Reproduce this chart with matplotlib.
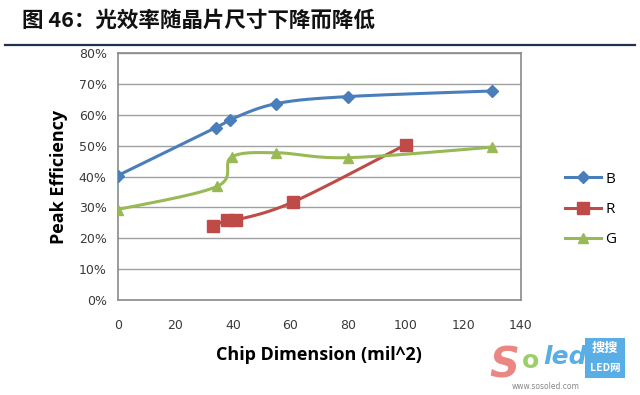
import numpy as np
import matplotlib
matplotlib.use("Agg")
import matplotlib.pyplot as plt
from matplotlib.patches import FancyBboxPatch

title = "图 46：光效率随晶片尺寸下降而降低"
series_names = ["B", "R", "G"]
b_x = [0, 34, 39, 55, 80, 130]
b_y = [40.3, 55.8, 58.4, 63.6, 65.9, 67.7]
r_x = [33, 38, 41, 61, 100]
r_y = [23.9, 25.9, 25.9, 31.8, 50.3]
g_x = [0, 34.5, 39.5, 55, 80, 130]
g_y = [29.3, 36.8, 46.3, 47.7, 46.1, 49.5]
xticks = [0, 20, 40, 60, 80, 100, 120, 140]
yticks = [0, 10, 20, 30, 40, 50, 60, 70, 80]

colors = ["#4a7ebb", "#be4b48", "#98b954"]
markers = ["D", "s", "^"]
msizes = [6, 8, 7.5]

plt.rcParams['font.family'] = ['Noto Sans CJK SC', 'DejaVu Sans']

fig = plt.figure(figsize=(6.4, 3.95), dpi=100)
ax = fig.add_axes([0.184, 0.2405, 0.630, 0.6253])


def smooth(x, y, sx=2.87, sy=3.09, n=30):
    # Excel-like smooth curve (Bezier through the points) in display-proportional units
    P = np.column_stack([np.asarray(x, float) * sx, np.asarray(y, float) * sy])
    out = []
    m = len(P)
    for i in range(m - 1):
        p0 = P[i - 1] if i > 0 else P[i]
        p1 = P[i]
        p2 = P[i + 1]
        p3 = P[i + 2] if i + 2 < m else P[i + 1]
        c1 = p1 + (p2 - p0) / 6.0
        c2 = p2 - (p3 - p1) / 6.0
        t = np.linspace(0, 1, n)[:, None]
        seg = ((1 - t) ** 3) * p1 + 3 * ((1 - t) ** 2) * t * c1 + 3 * (1 - t) * t ** 2 * c2 + t ** 3 * p2
        out.append(seg if i == 0 else seg[1:])
    C = np.vstack(out)
    return C[:, 0] / sx, C[:, 1] / sy


data = [(b_x, b_y), (r_x, r_y), (g_x, g_y)]
for (xs, ys), name, c, mk, ms in zip(data, series_names, colors, markers, msizes):
    cx, cy = smooth(xs, ys)
    ax.plot(cx, np.array(cy) / 100, color=c, lw=2.2, zorder=3, solid_capstyle='round')
    ax.plot(xs, np.array(ys) / 100, ls='none', marker=mk, color=c, ms=ms, zorder=4)

ax.set_xlim(0, 140)
ax.set_ylim(0, 0.8)
ax.set_xticks(xticks)
ax.set_yticks([v / 100 for v in yticks])
ax.set_xticklabels([str(v) for v in xticks], family=['DejaVu Sans'])
ax.set_yticklabels([f"{v}%" for v in yticks], family=['DejaVu Sans'])
ax.tick_params(length=0, labelsize=9, colors="#3a3a3a", pad=8)
ax.tick_params(axis='x', pad=14)
ax.grid(axis='y', color="#a0a0a0", lw=1)
ax.set_axisbelow(True)
for s in ax.spines.values():
    s.set_color("#8a8a8a")
    s.set_linewidth(1.2)

ax.set_ylabel("Peak Efficiency", fontsize=13, fontweight='bold', family=['Open Sans', 'DejaVu Sans'], labelpad=8)
ax.set_xlabel("Chip Dimension (mil^2)", fontsize=13, fontweight='bold', family=['Open Sans', 'DejaVu Sans'], labelpad=10)

# legend
handles = []
for name, c, mk, ms in zip(series_names, colors, markers, msizes):
    h, = ax.plot([], [], color=c, marker=mk, ms=ms, lw=2.2, label=name)
    handles.append(h)
leg = fig.legend(handles=handles, loc='center left', bbox_to_anchor=(0.862, 0.47), frameon=False,
                 handlelength=2.3, labelspacing=1.0, handletextpad=0.3,
                 prop={'family': ['Open Sans', 'DejaVu Sans'], 'size': 11})

# title and rule
fig.text(0.034, 0.948, title, fontsize=15.5, fontweight='bold', va='center', ha='left', color="#111111")
fig.add_artist(plt.Line2D([0.008, 0.992], [0.886, 0.886], color="#1f3152", lw=1.6, transform=fig.transFigure))

# watermark
fig.text(0.765, 0.075, "S", fontsize=30, fontweight='bold', style='italic', color="#ec8682",
         family=['DejaVu Sans'], ha='left', va='center')
fig.text(0.815, 0.085, "o", fontsize=18, fontweight='bold', color="#9ccf6a", family=['DejaVu Sans'],
         ha='left', va='center')
fig.text(0.849, 0.095, "led", fontsize=18, fontweight='bold', style='italic', color="#5aaee6",
         family=['DejaVu Sans'], ha='left', va='center')
fig.text(0.80, 0.022, "www.sosoled.com", fontsize=5.5, color="#888888", family=['DejaVu Sans'],
         ha='left', va='center')
fig.add_artist(FancyBboxPatch((0.914, 0.043), 0.0625, 0.101, boxstyle="square,pad=0", transform=fig.transFigure,
                              facecolor="#5aaee6", edgecolor="none"))
fig.text(0.945, 0.118, "搜搜", fontsize=9.5, fontweight='bold', color="white", ha='center', va='center')
fig.text(0.945, 0.068, "LED网", fontsize=7.5, fontweight='bold', color="white", ha='center', va='center')

fig.savefig("out.png", dpi=100)
